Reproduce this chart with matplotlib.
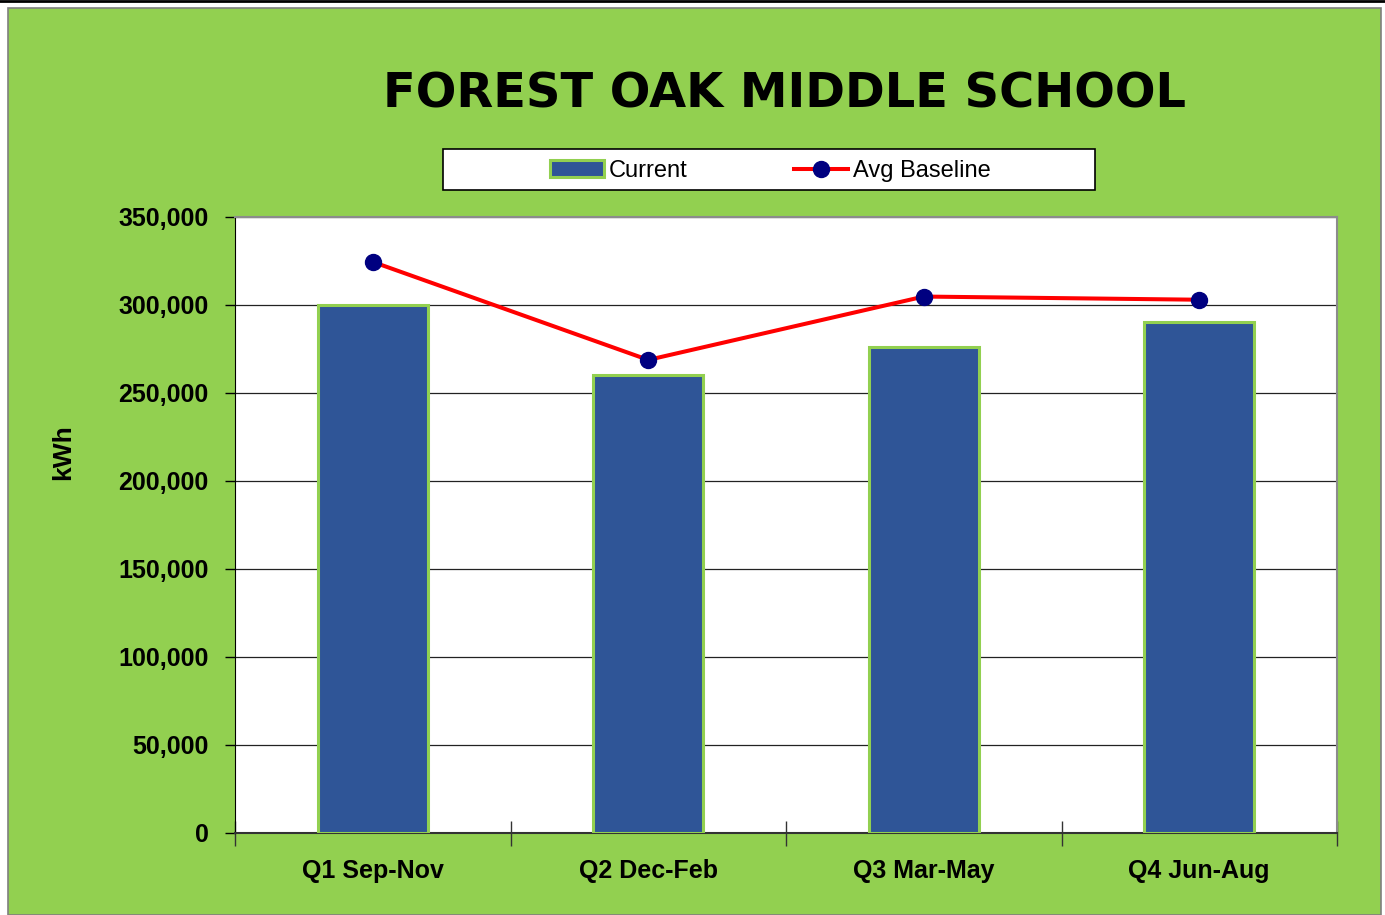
import matplotlib
matplotlib.use("Agg")
import matplotlib.pyplot as plt
from matplotlib.patches import Rectangle
from matplotlib.lines import Line2D
from matplotlib.ticker import FuncFormatter, MultipleLocator
import numpy as np

categories = ["Q1 Sep-Nov", "Q2 Dec-Feb", "Q3 Mar-May", "Q4 Jun-Aug"]
current = [300000, 260500, 276000, 290500]
baseline = [324500, 268800, 304800, 303000]
title = "FOREST OAK MIDDLE SCHOOL"
ylabel = "kWh"

GREEN = "#92D050"
BLUE = "#2F5597"
NARROW = ["Liberation Sans Narrow", "Liberation Sans", "DejaVu Sans"]

W, H = 1385, 915
fig = plt.figure(figsize=(W / 100, H / 100), dpi=100)
fig.patch.set_facecolor("white")

def fx(x):
    return x / W

def fy(y):
    return 1 - y / H

# green chart area
fig.patches.append(Rectangle((fx(8), 0), fx(1381) - fx(8), fy(8) - 0,
                             transform=fig.transFigure, facecolor=GREEN,
                             edgecolor="#7f7f7f", linewidth=1.2, zorder=-2))
# top dark line
fig.lines.append(Line2D([0, 1], [fy(1), fy(1)], transform=fig.transFigure,
                        color="black", linewidth=2, zorder=-1))

ax = fig.add_axes([fx(235), fy(833), fx(1337) - fx(235), fy(217) - fy(833)])
ax.set_zorder(1)
ax.set_facecolor("white")
x = np.arange(len(categories))
ax.bar(x, current, width=0.4, color=BLUE, edgecolor=GREEN, linewidth=2.2,
       zorder=3, label="Current")
ax.plot(x, baseline, color="red", linewidth=2.9, marker="o", markersize=11.5,
        markerfacecolor="#000080", markeredgecolor="#000080", zorder=4,
        label="Avg Baseline")

ax.set_xlim(-0.5, len(categories) - 0.5)
ax.set_ylim(0, 350000)
ax.yaxis.set_major_locator(MultipleLocator(50000))
ax.yaxis.set_major_formatter(FuncFormatter(lambda v, p: f"{int(v):,}"))
ax.grid(axis="y", color="#222222", linewidth=0.9, zorder=1)
ax.set_axisbelow(True)

ax.set_xticks(x)
ax.set_xticklabels(categories)
ax.set_xticks(np.arange(len(categories) + 1) - 0.5, minor=True)
ax.tick_params(axis="x", which="major", length=0, pad=19)
ax.tick_params(axis="x", which="minor", length=18, direction="inout",
               width=1, color="#333333")
ax.tick_params(axis="y", which="major", length=7, direction="out", width=1,
               pad=12)
for lab in ax.get_xticklabels() + ax.get_yticklabels():
    lab.set_fontfamily(NARROW)
    lab.set_fontweight("bold")
    lab.set_fontsize(18)

for s in ["top", "right"]:
    ax.spines[s].set_color("#8c8c8c")
    ax.spines[s].set_linewidth(1.5)
ax.spines["left"].set_color("black")
ax.spines["bottom"].set_color("#333333")
ax.spines["bottom"].set_linewidth(1.5)

fig.text(fx(63), fy(452), ylabel, rotation=90, ha="center", va="center",
         fontsize=19, fontweight="bold", family=NARROW)

fig.text(fx(785), fy(94), title, ha="center", va="center", fontsize=34.5,
         fontweight="heavy", family=["DejaVu Sans"])

# legend frame
fig.patches.append(Rectangle((fx(443), fy(190)), fx(1095) - fx(443),
                             fy(149) - fy(190), transform=fig.transFigure,
                             facecolor="white", edgecolor="black",
                             linewidth=1.2, zorder=2))
handles, labels = ax.get_legend_handles_labels()
order = [labels.index("Current"), labels.index("Avg Baseline")]
leg = fig.legend([handles[i] for i in order], [labels[i] for i in order],
                 loc="center", bbox_to_anchor=(fx(770), fy(171)), ncol=2,
                 frameon=False, prop={"family": NARROW, "size": 17},
                 handlelength=2.3, handletextpad=0.2, columnspacing=4.5,
                 borderpad=0.2)
leg.set_zorder(5)

fig.savefig("out.png", dpi=100)
